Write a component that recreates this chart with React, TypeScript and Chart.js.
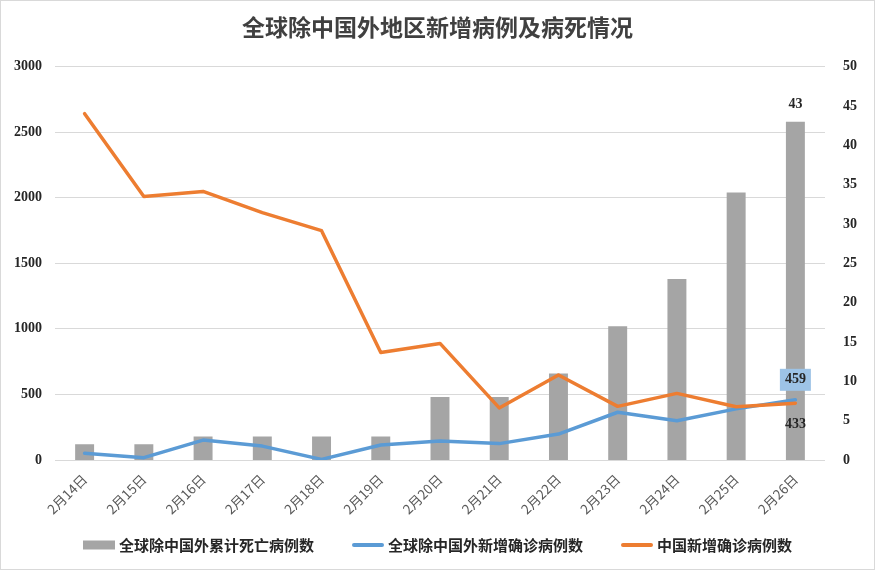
import React, { useEffect, useRef } from "react";
import { Chart, registerables } from "chart.js";

Chart.register(...registerables);

const categories = ["2月14日", "2月15日", "2月16日", "2月17日", "2月18日", "2月19日", "2月20日", "2月21日", "2月22日", "2月23日", "2月24日", "2月25日", "2月26日"];
const deathsOutsideChina = [2, 2, 3, 3, 3, 3, 8, 8, 11, 17, 23, 34, 43];
const newCasesOutsideChina = [52, 18, 152, 106, 5, 114, 144, 125, 198, 364, 300, 390, 459];
const newCasesChina = [2641, 2009, 2048, 1886, 1749, 820, 889, 397, 648, 409, 508, 406, 433];
const seriesNames = ["全球除中国外累计死亡病例数", "全球除中国外新增确诊病例数", "中国新增确诊病例数"];
const titleText = "全球除中国外地区新增病例及病死情况";

const GRAY = "#a5a5a5";
const BLUE = "#5b9bd5";
const ORANGE = "#ed7d31";
const seriesColors = [GRAY, BLUE, ORANGE];

const bgPlugin = {
  id: "bgBorder",
  beforeDraw(chart: any) {
    const ctx = chart.ctx;
    ctx.save();
    ctx.fillStyle = "#ffffff";
    ctx.fillRect(0, 0, chart.width, chart.height);
    ctx.strokeStyle = "#d9d9d9";
    ctx.lineWidth = 1;
    ctx.strokeRect(0.5, 0.5, chart.width - 1, chart.height - 1);
    ctx.restore();
  },
};

const labelPlugin = {
  id: "lastLabels",
  afterDatasetsDraw(chart: any) {
    const ctx = chart.ctx;
    const last = categories.length - 1;
    ctx.save();
    ctx.font = 'bold 14px "Liberation Serif"';
    ctx.textAlign = "center";
    ctx.textBaseline = "middle";
    const bar = chart.getDatasetMeta(0).data[last];
    ctx.fillStyle = "#262626";
    ctx.fillText(String(deathsOutsideChina[last]), bar.x, bar.y - 17);
    const bp = chart.getDatasetMeta(1).data[last];
    const t = String(newCasesOutsideChina[last]);
    const w = ctx.measureText(t).width + 10;
    ctx.fillStyle = "#9dc3e6";
    ctx.fillRect(bp.x - w / 2, bp.y - 20 - 11, w, 22);
    ctx.fillStyle = "#262626";
    ctx.fillText(t, bp.x, bp.y - 20);
    const op = chart.getDatasetMeta(2).data[last];
    ctx.fillText(String(newCasesChina[last]), op.x, op.y + 21);
    ctx.restore();
  },
};

const legendPlugin = {
  id: "customLegend",
  afterDraw(chart: any) {
    const ctx = chart.ctx;
    ctx.save();
    ctx.font = 'bold 15px "Noto Sans CJK SC"';
    ctx.textBaseline = "middle";
    ctx.textAlign = "left";
    const boxW = 32;
    const textGap = 4;
    const itemGap = 38;
    const widths = seriesNames.map((n) => boxW + textGap + ctx.measureText(n).width);
    const total = widths.reduce((a, b) => a + b, 0) + itemGap * (seriesNames.length - 1);
    let x = chart.width / 2 - total / 2;
    const y = 545;
    seriesNames.forEach((name, i) => {
      if (i === 0) {
        ctx.fillStyle = seriesColors[i];
        ctx.fillRect(x, y - 4.5, boxW, 9);
      } else {
        ctx.strokeStyle = seriesColors[i];
        ctx.lineWidth = 4;
        ctx.lineCap = "round";
        ctx.beginPath();
        ctx.moveTo(x + 2, y);
        ctx.lineTo(x + boxW - 2, y);
        ctx.stroke();
      }
      ctx.fillStyle = "#262626";
      ctx.fillText(name, x + boxW + textGap, y);
      x += widths[i] + itemGap;
    });
    ctx.restore();
  },
};

export default function App() {
  const ref = useRef<HTMLCanvasElement | null>(null);
  useEffect(() => {
    if (!ref.current) return;
    const chart = new Chart(ref.current, {
      type: "bar",
      data: {
        labels: categories,
        datasets: [
          {
            type: "bar",
            label: seriesNames[0],
            data: deathsOutsideChina,
            backgroundColor: GRAY,
            borderWidth: 0,
            yAxisID: "y1",
            order: 3,
            categoryPercentage: 1,
            barPercentage: 0.32,
          } as any,
          {
            type: "line",
            label: seriesNames[1],
            data: newCasesOutsideChina,
            borderColor: BLUE,
            backgroundColor: BLUE,
            borderWidth: 3.5,
            pointRadius: 0,
            tension: 0,
            borderCapStyle: "round",
            borderJoinStyle: "round",
            yAxisID: "y",
            order: 2,
          } as any,
          {
            type: "line",
            label: seriesNames[2],
            data: newCasesChina,
            borderColor: ORANGE,
            backgroundColor: ORANGE,
            borderWidth: 3.5,
            pointRadius: 0,
            tension: 0,
            borderCapStyle: "round",
            borderJoinStyle: "round",
            yAxisID: "y",
            order: 1,
          } as any,
        ],
      },
      options: {
        animation: false,
        responsive: true,
        maintainAspectRatio: false,
        layout: { padding: { top: 0, left: 0, right: 0, bottom: 52 } },
        plugins: {
          tooltip: { enabled: false },
          legend: { display: false },
          title: {
            display: true,
            text: titleText,
            color: "#404040",
            font: { family: '"Noto Sans CJK SC"', size: 23, weight: "bold" },
            padding: { top: 13, bottom: 26 },
          },
        },
        scales: {
          x: {
            offset: true,
            grid: { display: false, drawTicks: false },
            border: { display: false },
            ticks: {
              autoSkip: false,
              minRotation: 45,
              maxRotation: 45,
              padding: 11,
              color: "#595959",
              font: { family: '"Noto Sans CJK SC"', size: 13.5 },
            },
            afterFit: (s: any) => {
              s.height = 58;
            },
          },
          y: {
            position: "left",
            min: 0,
            max: 3000,
            ticks: {
              stepSize: 500,
              padding: 13,
              color: "#262626",
              font: { family: '"Liberation Serif"', size: 14, weight: "bold" },
              callback: (v: any) => String(v),
            },
            grid: { color: "#d9d9d9", drawTicks: false },
            border: { display: false },
            afterFit: (s: any) => {
              s.width = 55;
            },
          },
          y1: {
            position: "right",
            min: 0,
            max: 50,
            ticks: {
              stepSize: 5,
              padding: 18,
              color: "#262626",
              font: { family: '"Liberation Serif"', size: 14, weight: "bold" },
              callback: (v: any) => String(v),
            },
            grid: { display: false, drawTicks: false },
            border: { display: false },
            afterFit: (s: any) => {
              s.width = 50;
            },
          },
        },
      } as any,
      plugins: [bgPlugin, labelPlugin, legendPlugin],
    });
    return () => chart.destroy();
  }, []);
  return (
    <div style={{ position: "fixed", left: 0, top: 0, width: 875, height: 570, background: "#fff" }}>
      <canvas ref={ref} />
    </div>
  );
}
